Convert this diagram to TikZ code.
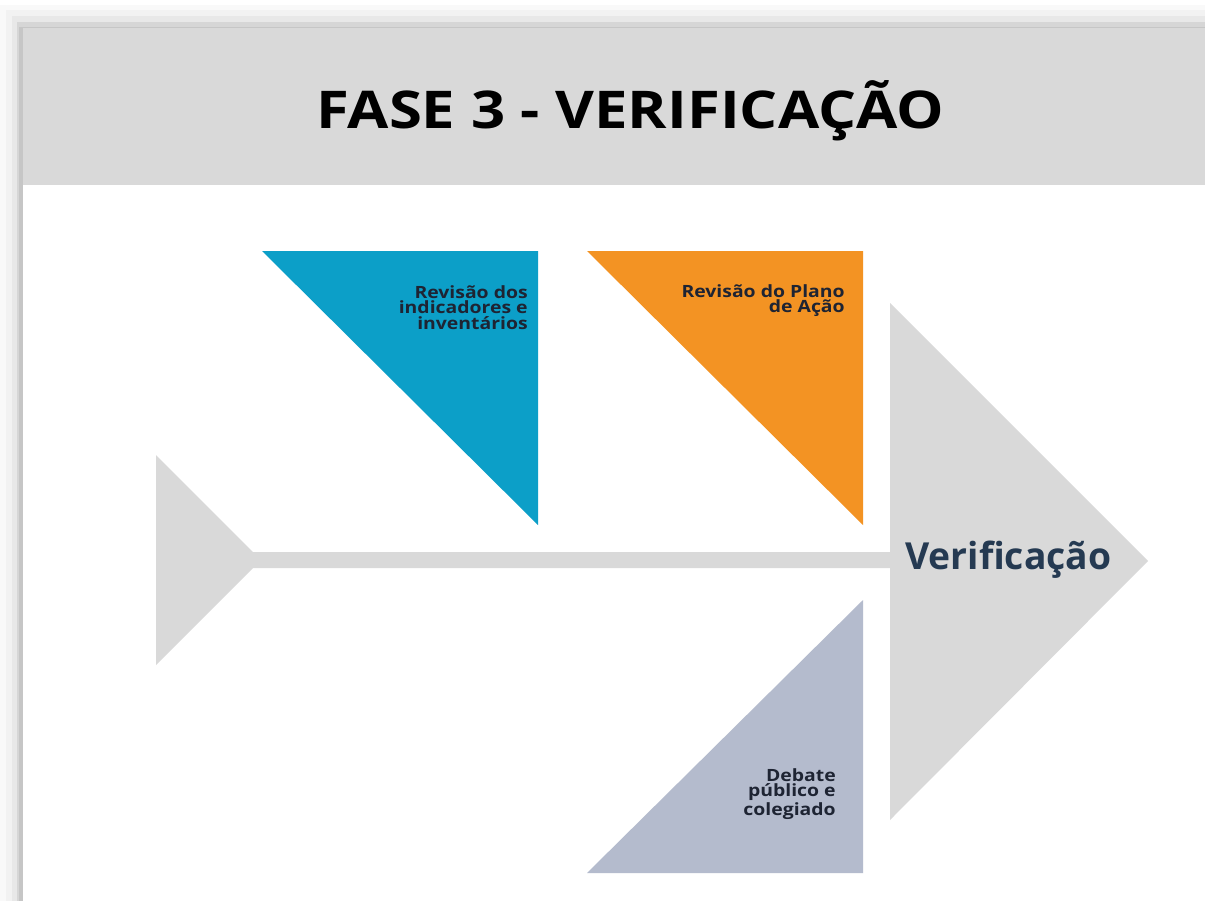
\documentclass[tikz,border=0pt]{standalone}
\usepackage{fontspec}
\setmainfont{Open Sans}
\newfontfamily\widesans[FakeStretch=1.15]{Open Sans}
\usepackage{xcolor}
\usetikzlibrary{positioning}
\definecolor{bandgray}{HTML}{D9D9D9}
\definecolor{fishblue}{HTML}{0C9FC8}
\definecolor{fishorange}{HTML}{F39323}
\definecolor{fishslate}{HTML}{B4BBCD}
\definecolor{navytext}{HTML}{253A52}
\definecolor{darktext}{HTML}{1E2433}

\begin{document}
\begin{tikzpicture}[x=0.025cm, y=-0.025cm,
  bone/.style={fill=#1, draw=none},
  lbl/.style={font=\widesans\fontsize{12}{11.2}\selectfont\bfseries, align=right,
              inner sep=0pt, text=darktext},
  ttl/.style={font=\widesans\fontsize{37}{40}\selectfont\bfseries, text=black,
              inner sep=0pt}]

% page and drop shadow
\useasboundingbox (0,0) rectangle (1205,901);
\fill[white] (0,0) rectangle (1205,901);
\fill[gray!5]  (0,5)   rectangle (1205,901);
\fill[gray!10] (6,10)  rectangle (1205,901);
\fill[gray!18] (12,16) rectangle (1205,901);
\fill[gray!32] (17,22) rectangle (1205,901);
\fill[gray!45] (19,27) rectangle (1205,901);
\fill[white]   (23,28) rectangle (1205,901);

% header band
\fill[bandgray] (23,28) rectangle (1205,185);
\node[ttl] (title) at (630,111) {FASE 3 - VERIFICAÇÃO};

% fishbone
\fill[bone=bandgray] (156,455) -- (253,552) -- (890,552) -- (890,303)
  -- (1148,561) -- (890,820) -- (890,568) -- (253,568) -- (156,665) -- cycle;
\fill[bone=fishblue]   (262,251) -- (538,251) -- (538,525) -- cycle;
\fill[bone=fishorange] (587,251) -- (863,251) -- (863,525) -- cycle;
\fill[bone=fishslate]  (863,600) -- (863,873) -- (587,873) -- cycle;

\node[lbl, anchor=north east] (indic) at (528,285)
  {Revisão dos\\indicadores e\\inventários};
\node[lbl, anchor=north east] (plano) at (845,284)
  {Revisão do Plano\\de Ação};
\node[lbl, anchor=north east] (debate) at (836,768)
  {Debate\\público e\\colegiado};
\node[font=\fontsize{26.5}{30}\selectfont\bfseries, text=navytext, inner sep=0pt,
      anchor=west] (verif) at (905,560) {Verificação};
\end{tikzpicture}
\end{document}
